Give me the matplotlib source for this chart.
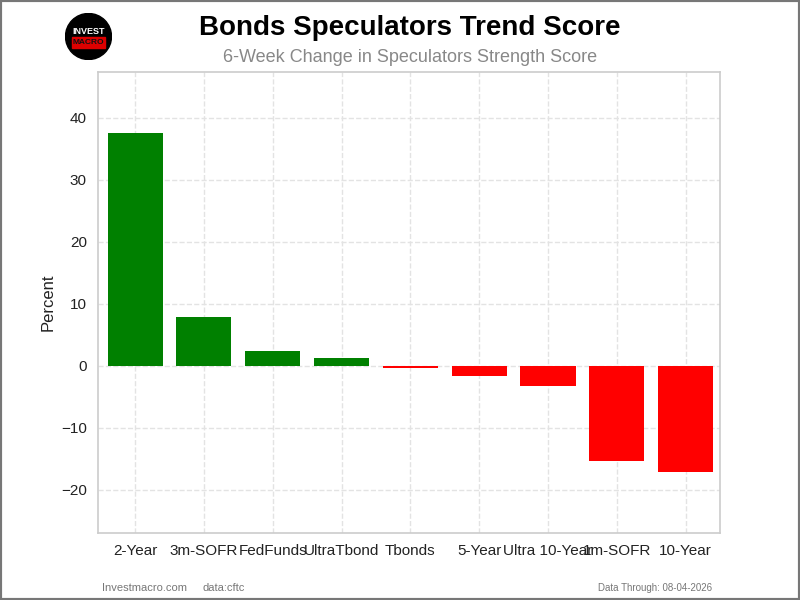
import numpy as np
import matplotlib.pyplot as plt
from matplotlib.patches import Circle, Rectangle

# data
categories = ['2-Year', '3m-SOFR', 'FedFunds', 'UltraTbond', 'Tbonds',
              '5-Year', 'Ultra 10-Year', '1m-SOFR', '10-Year']
values = [37.6, 7.9, 2.3, 1.3, -0.3, -1.6, -3.2, -15.3, -17.2]

plt.rcParams['font.family'] = ['Liberation Sans', 'DejaVu Sans']

fig = plt.figure(figsize=(8, 6), dpi=100)
ax = fig.add_axes([98/800, 1-533/600, (720-98)/800, (533-72)/600])

colors = ['green' if v >= 0 else 'red' for v in values]
x = np.arange(len(categories))
ax.bar(x, values, width=0.8, color=colors, edgecolor='none', zorder=3)

ax.set_xticks(x)
ax.set_xticklabels(categories, fontsize=11, color='#222222')
ax.set_xlim(-0.54, 8.5)
ax.set_ylim(-27, 47.4)
ax.set_yticks([-20, -10, 0, 10, 20, 30, 40])
ax.set_yticklabels(['\u221220', '\u221210', '0', '10', '20', '30', '40'])
ax.tick_params(axis='y', labelsize=11, colors='#222222', length=0, pad=8)
ax.tick_params(axis='x', length=0, pad=8)
ax.set_ylabel('Percent', fontsize=12, color='#222222', labelpad=4)
ax.grid(True, linestyle='--', color='#e3e3e3', linewidth=1, zorder=0)
for s in ax.spines.values():
    s.set_color('#cccccc')
    s.set_linewidth(1.2)

fig.text(0.512, 1-28/600, 'Bonds Speculators Trend Score', ha='center', va='center',
         fontsize=20, fontweight='bold', color='black')
fig.text(0.512, 1-57/600, '6-Week Change in Speculators Strength Score', ha='center', va='center',
         fontsize=13, color='#888888')

fig.text(102/800, 1-588/600, 'Investmacro.com', fontsize=8, color='#777777', va='center')
fig.text(203/800, 1-588/600, 'data:cftc', fontsize=8, color='#777777', va='center')
fig.text(712/800, 1-588/600, 'Data Through: 08-04-2026', fontsize=7, color='#777777',
         va='center', ha='right')

# logo
lax = fig.add_axes([65/800, 1-60/600, 47/800, 47/600])
lax.set_xlim(-1, 1)
lax.set_ylim(-1, 1)
lax.set_aspect('equal')
lax.axis('off')
lax.add_patch(Circle((0, 0), 0.98, color='black'))
lax.add_patch(Rectangle((-0.72, -0.5), 1.44, 0.46, color='#dd0000'))
lax.text(0, 0.2, 'INVEST', color='white', fontsize=6.5, fontweight='bold', ha='center', va='center')
lax.text(0, -0.27, 'MACRO', color='#111111', fontsize=6, fontweight='bold', ha='center', va='center')

# figure frame
fig.patches.append(Rectangle((0, 0), 1, 1, transform=fig.transFigure, fill=False,
                             edgecolor='#777777', linewidth=3))

plt.savefig('out.png', dpi=100)
